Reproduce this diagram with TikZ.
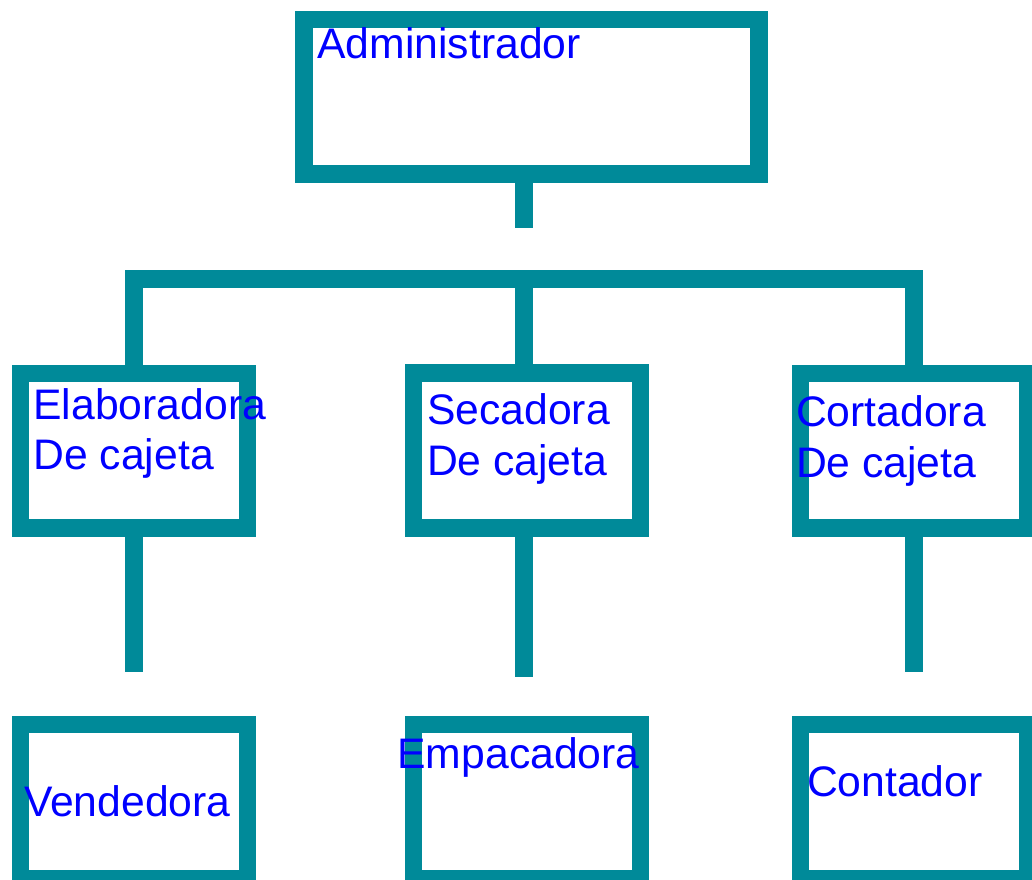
\documentclass[tikz,border=0pt]{standalone}
\usepackage{fontspec}
\setmainfont{Liberation Sans}
\definecolor{tealline}{RGB}{0,138,153}
\definecolor{labelblue}{RGB}{0,0,255}
\begin{document}
\begin{tikzpicture}[x=1pt,y=-1pt,
  box/.style={draw=tealline,line width=17.5pt,rectangle,inner sep=0pt,outer sep=0pt,
    minimum width=227pt,minimum height=154.7pt},
  link/.style={draw=tealline,line width=17.5pt,line cap=butt,line join=miter},
  lbl/.style={text=labelblue,font=\fontsize{42.7pt}{50.5pt}\selectfont,inner sep=0pt,
    outer sep=0pt,anchor=base west,align=left}]
\useasboundingbox (0,0) rectangle (1032,879);
% boxes
\node[box,minimum width=455pt,minimum height=154.3pt] (admin) at (531.5,96.85) {};
\node[box] (elab) at (133.9,450.6) {};
\node[box] (seca) at (527,450.5) {};
\node[box] (cort) at (914,450.6) {};
\node[box] (vend) at (133.9,801.6) {};
\node[box] (empa) at (527,801.6) {};
\node[box] (cont) at (914,801.6) {};
% connector points
\coordinate (adminstem) at (524,227.7);
\coordinate (barL) at (133.9,279);
\coordinate (barM) at (524,279);
\coordinate (barR) at (914,279);
\coordinate (elabend) at (133.9,671.7);
\coordinate (secaend) at (524,677);
\coordinate (cortend) at (914,671.7);
% connectors
\draw[link] (adminstem |- admin.south) -- (adminstem);
\draw[link] (elab.north) -- (barL) -- (barR) -- (cort.north);
\draw[link] (barM) -- (barM |- seca.north);
\draw[link] (elab.south) -- (elabend);
\draw[link] (secaend |- seca.south) -- (secaend);
\draw[link] (cort.south) -- (cortend);
% labels (multi-line labels are placed by their last baseline)
\node[lbl] (tadmin) at (317.5,58.3) {Administrador};
\node[lbl] (telab) at (33.5,469.5) {Elaboradora\\De cajeta};
\node[lbl] (tseca) at (427,475) {Secadora\\De cajeta};
\node[lbl] (tcort) at (796,477.3) {Cortadora\\De cajeta};
\node[lbl] (tvend) at (24,816.7) {Vendedora};
\node[lbl] (tempa) at (397.5,768.3) {Empacadora};
\node[lbl] (tcont) at (807,796) {Contador};
\end{tikzpicture}
\end{document}
